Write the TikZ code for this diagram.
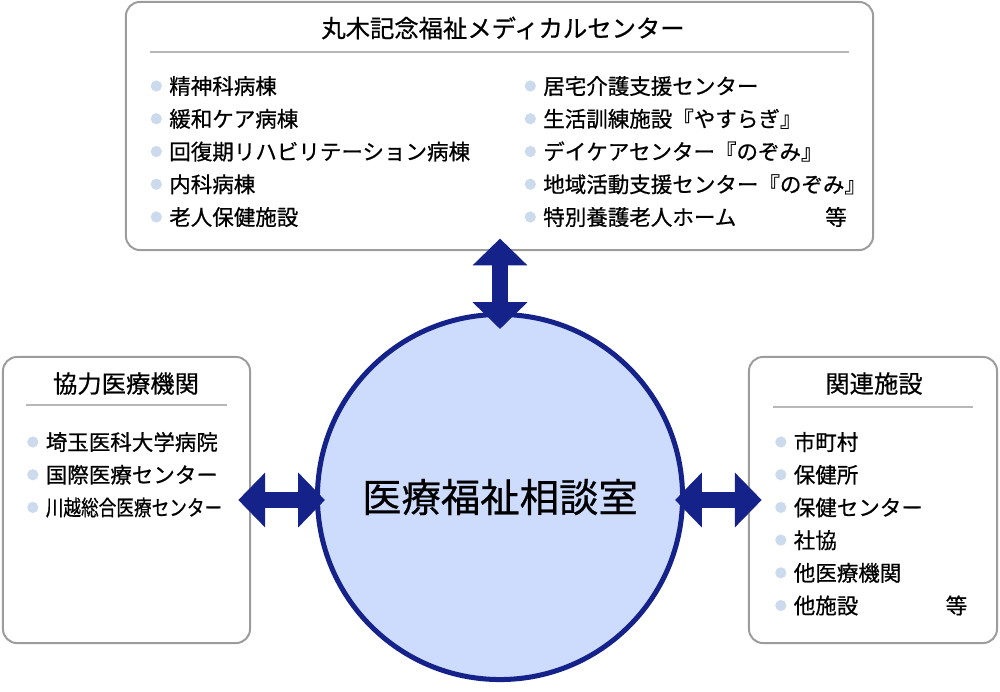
\documentclass[tikz,border=0pt]{standalone}
\usepackage{fontspec}
\setmainfont{Noto Sans CJK JP}[FakeBold=0.6]
\usepackage{xcolor}
\usepackage{graphicx}
\usetikzlibrary{arrows.meta}

\definecolor{framegray}{HTML}{9C9C9C}
\definecolor{rulegray}{HTML}{B8B8B8}
\definecolor{dotblue}{HTML}{CCDAEE}
\definecolor{navy}{HTML}{14228A}
\definecolor{roomfill}{HTML}{CDDCFC}

\tikzset{
  panel/.style={draw=framegray, line width=1.4pt, rounded corners=0.35cm, fill=white, inner sep=0pt, outer sep=0pt},
  heading/.style={font=\fontsize{17.3}{20}\selectfont, inner sep=0pt},
  dot/.style={circle, fill=dotblue, minimum size=0.28cm, inner sep=0pt},
  entry/.style={anchor=west, font=\fontsize{15.3}{18}\selectfont, inner sep=0pt, text height=13.5pt, text depth=1.8pt, label={[dot, label distance=0.17cm]left:{}}},
  tail/.style={font=\fontsize{15.3}{18}\selectfont, inner sep=0pt, text height=13.5pt, text depth=1.8pt},
  rule/.style={draw=rulegray, line width=0.9pt},
  room/.style={circle, draw=navy, line width=3.56pt, fill=roomfill, minimum size=9.125cm, inner sep=0pt, outer sep=0pt, font=\fontsize{28}{32}\selectfont},
  link/.style={draw=navy, line width=10.7pt, {Triangle[width=39pt,length=19pt,line width=0pt]}-{Triangle[width=39pt,length=19pt,line width=0pt]}}
}

\begin{document}
\begin{tikzpicture}[x=0.025cm, y=-0.025cm]
\useasboundingbox (0,0) rectangle (1000,691);

% the three panels
\node[panel, minimum width=18.675cm, minimum height=6.2cm] (mcenter) at (499.5,126) {};
\node[panel, minimum width=6.175cm, minimum height=7.15cm] (partner) at (126.5,500) {};
\node[panel, minimum width=6.2cm, minimum height=7.15cm] (related) at (873,500) {};

% headings
\node[heading] (mtitle) at (503,28) {丸木記念福祉メディカルセンター};
\draw[rule] (150,52) -- (849,52);
\node[heading] (ptitle) at (126,383.5) {協力医療機関};
\draw[rule] (26,405) -- (227,405);
\node[heading] (rtitle) at (874,383.5) {関連施設};
\draw[rule] (773,407) -- (973,407);

% top panel, left column
\node[entry] (m1) at (169,86) {精神科病棟};
\node[entry] (m2) at (169,118.75) {緩和ケア病棟};
\node[entry] (m3) at (169,151.5) {回復期リハビリテーション病棟};
\node[entry] (m4) at (169,184.25) {内科病棟};
\node[entry] (m5) at (169,217) {老人保健施設};
% top panel, right column
\node[entry] (m6) at (543,86) {居宅介護支援センター};
\node[entry] (m7) at (543,118.75) {生活訓練施設『やすらぎ』};
\node[entry] (m8) at (543,151.5) {デイケアセンター『のぞみ』};
\node[entry] (m9) at (543,184.25) {地域活動支援センター『のぞみ』};
\node[entry] (m10) at (543,217) {特別養護老人ホーム};
\node[tail] (metc) at (836,217) {等};

% left panel
\node[entry] (p1) at (45.5,442) {埼玉医科大学病院};
\node[entry] (p2) at (45.5,474.7) {国際医療センター};
\node[entry] (p3) at (45.5,507.4) {\scalebox{0.82}[1]{川越総合医療センター}};

% right panel
\node[entry] (r1) at (793.5,442) {市町村};
\node[entry] (r2) at (793.5,474.7) {保健所};
\node[entry] (r3) at (793.5,507.4) {保健センター};
\node[entry] (r4) at (793.5,540.1) {社協};
\node[entry] (r5) at (793.5,572.8) {他医療機関};
\node[entry] (r6) at (793.5,605.5) {他施設};
\node[tail] (retc) at (956.5,605.5) {等};

% centre
\node[room] (room) at (500,497) {医療福祉相談室};

% links
\draw[link, shorten <=-8.1pt, shorten >=-10.3pt] (room.north |- mcenter.south) -- (room.north);
\draw[link, shorten <=-8.3pt, shorten >=-5.3pt] (partner.east) -- (partner.east -| room.west);
\draw[link, shorten <=-9pt, shorten >=-5.3pt] (related.west) -- (related.west -| room.east);

\end{tikzpicture}
\end{document}
